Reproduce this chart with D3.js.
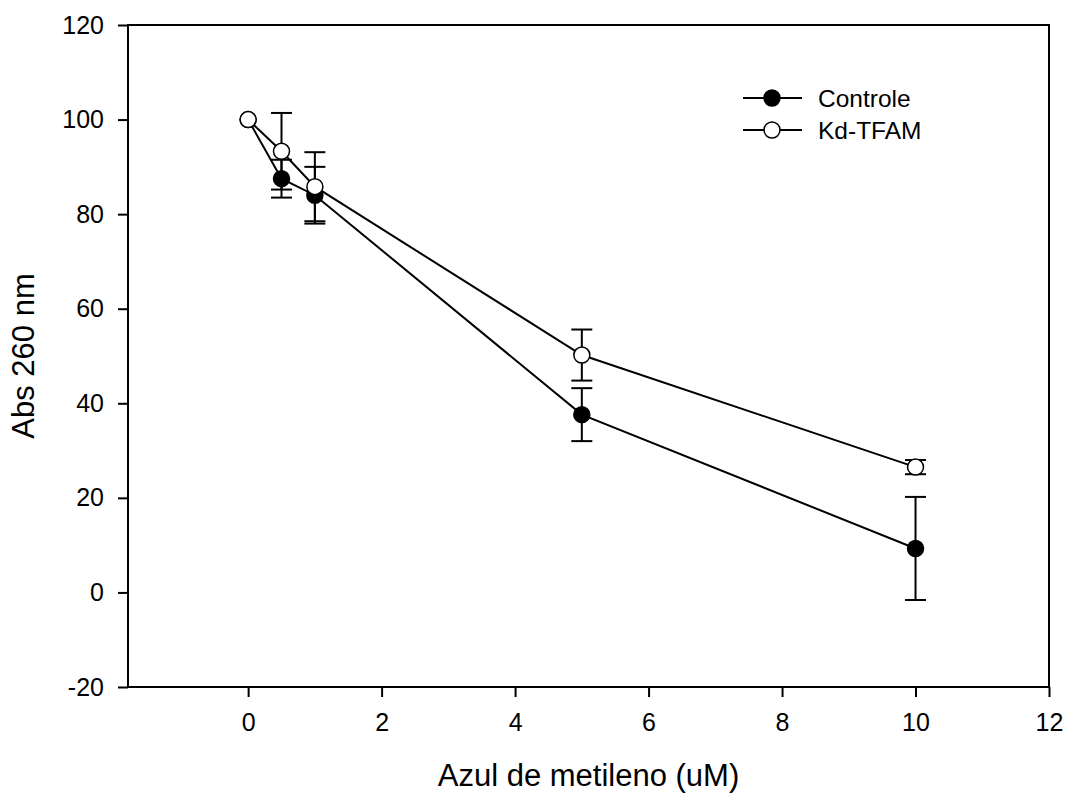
<!DOCTYPE html>
<html>
<head>
<meta charset="utf-8">
<script src="https://cdn.jsdelivr.net/npm/d3@7"></script>
<style>
  body { margin: 0; background: #fff; }
  svg text { font-family: Arial, "Liberation Sans", sans-serif; fill: #000; }
</style>
</head>
<body>
<div id="chart"></div>
<script>
// concentrations of methylene blue (uM)
const doses = [0, 0.5, 1, 5, 10];

const controleMean = [100, 87.5, 84.0, 37.6, 9.3];
const controleErr  = [0, 4.0, 6.0, 5.6, 10.9];

const kdMean = [100, 93.3, 85.8, 50.2, 26.5];
const kdErr  = [0, 8.1, 7.3, 5.4, 1.5];

const xTicks = [0, 2, 4, 6, 8, 10, 12];
const yTicks = [-20, 0, 20, 40, 60, 80, 100, 120];

const series = [
  { name: 'Controle', mean: controleMean, err: controleErr, fill: '#000' },
  { name: 'Kd-TFAM', mean: kdMean, err: kdErr, fill: '#fff' }
];

const width = 1066, height = 794;
const margin = { top: 25, right: 17, bottom: 107, left: 128 };
const innerW = width - margin.left - margin.right;
const innerH = height - margin.top - margin.bottom;

const svg = d3.select('#chart')
  .append('svg')
  .attr('width', width)
  .attr('height', height);

const g = svg.append('g')
  .attr('transform', `translate(${margin.left},${margin.top})`);

const x = d3.scaleLinear().domain([-1.8, 12]).range([0, innerW]);
const y = d3.scaleLinear().domain([-20, 120]).range([innerH, 0]);

// plain hyphen for negatives, like the original
const fmt = d => String(d);

// frame
g.append('rect')
  .attr('width', innerW)
  .attr('height', innerH)
  .attr('fill', 'none')
  .attr('stroke', '#000')
  .attr('stroke-width', 2);

const xAxis = g.append('g')
  .attr('transform', `translate(0,${innerH})`)
  .call(d3.axisBottom(x).tickValues(xTicks).tickSize(10).tickPadding(16).tickFormat(fmt));

const yAxis = g.append('g')
  .call(d3.axisLeft(y).tickValues(yTicks).tickSize(10).tickPadding(14).tickFormat(fmt));

[xAxis, yAxis].forEach(ax => {
  ax.select('.domain').remove();
  ax.selectAll('.tick line').attr('stroke', '#000').attr('stroke-width', 2);
  ax.selectAll('.tick text')
    .attr('fill', '#000')
    .style('font-size', '25px')
    .style('font-family', 'Arial, "Liberation Sans", sans-serif');
});

// axis titles
svg.append('text')
  .attr('x', margin.left + innerW / 2)
  .attr('y', 786)
  .attr('text-anchor', 'middle')
  .style('font-size', '31px')
  .text('Azul de metileno (uM)');

svg.append('text')
  .attr('transform', `translate(34,${margin.top + innerH / 2}) rotate(-90)`)
  .attr('text-anchor', 'middle')
  .style('font-size', '31px')
  .text('Abs 260 nm');

const line = d3.line()
  .x(d => x(d[0]))
  .y(d => y(d[1]));

const capW = 10.5;

series.forEach(s => {
  const pts = doses.map((d, i) => [d, s.mean[i], s.err[i]]);
  const sg = g.append('g');

  sg.append('path')
    .datum(pts)
    .attr('d', line)
    .attr('fill', 'none')
    .attr('stroke', '#000')
    .attr('stroke-width', 2);

  const eb = sg.selectAll('.err')
    .data(pts.filter(p => p[2] > 0))
    .join('g');

  eb.append('line')
    .attr('x1', d => x(d[0])).attr('x2', d => x(d[0]))
    .attr('y1', d => y(d[1] - d[2])).attr('y2', d => y(d[1] + d[2]))
    .attr('stroke', '#000').attr('stroke-width', 2);

  [-1, 1].forEach(sign => {
    eb.append('line')
      .attr('x1', d => x(d[0]) - capW).attr('x2', d => x(d[0]) + capW)
      .attr('y1', d => y(d[1] + sign * d[2])).attr('y2', d => y(d[1] + sign * d[2]))
      .attr('stroke', '#000').attr('stroke-width', 2);
  });

  s.group = sg;
  s.pts = pts;
});

// markers drawn after all error bars
series.forEach(s => {
  s.group.selectAll('circle')
    .data(s.pts)
    .join('circle')
    .attr('cx', d => x(d[0]))
    .attr('cy', d => y(d[1]))
    .attr('r', 8)
    .attr('fill', s.fill)
    .attr('stroke', '#000')
    .attr('stroke-width', 1.5);
});

// legend
const legend = svg.append('g').attr('transform', 'translate(743,98)');
series.forEach((s, i) => {
  const row = legend.append('g').attr('transform', `translate(0,${i * 32})`);
  row.append('line')
    .attr('x1', 0).attr('x2', 59)
    .attr('stroke', '#000').attr('stroke-width', 2);
  row.append('circle')
    .attr('cx', 29).attr('r', 8)
    .attr('fill', s.fill)
    .attr('stroke', '#000').attr('stroke-width', 1.5);
  row.append('text')
    .attr('x', 75)
    .attr('dy', '0.35em')
    .style('font-size', '24.5px')
    .text(s.name);
});
</script>
</body>
</html>
